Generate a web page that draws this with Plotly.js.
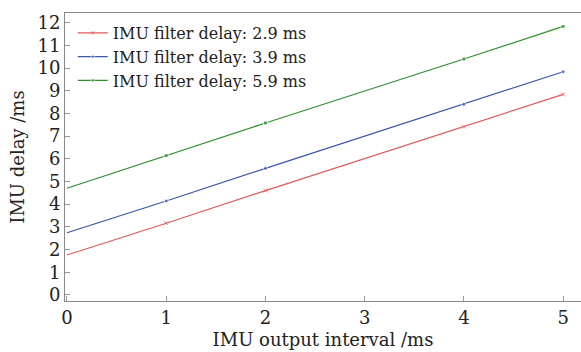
<!DOCTYPE html>
<html>
<head>
<meta charset="utf-8">
<script src="https://cdn.plot.ly/plotly-3.0.1.min.js"></script>
<style>html,body{margin:0;padding:0;background:#fff;}#chart{width:581px;height:352px;}</style>
</head>
<body>
<div id="chart"></div>
<script>
const xInterval = [0, 1, 2, 4, 5];
const delay29 = [1.76, 3.16, 4.60, 7.42, 8.84];
const delay39 = [2.74, 4.14, 5.58, 8.40, 9.84];
const delay59 = [4.70, 6.14, 7.58, 10.40, 11.84];
const seriesNames = ['IMU filter delay: 2.9 ms', 'IMU filter delay: 3.9 ms', 'IMU filter delay: 5.9 ms'];
const yTicks = [0,1,2,3,4,5,6,7,8,9,10,11,12];
const xTicks = [0,1,2,3,4,5];

const font = 'DejaVu Serif';
const mk = (y, name, color, symbol) => ({
  x: xInterval, y: y, name: name, type: 'scatter', mode: 'lines+markers',
  line: {color: color, width: 1.2},
  marker: {color: color, symbol: symbol, size: [0,4,4,4,4]}
});
const data = [
  mk(delay29, seriesNames[0], '#e05a5a', 'x-thin-open'),
  mk(delay39, seriesNames[1], '#3a56a8', 'circle'),
  mk(delay59, seriesNames[2], '#2f8f2f', 'square')
];
data[0].marker.line = {color: '#e05a5a', width: 1};
const layout = {
  width: 581, height: 352,
  margin: {l: 65, r: 0, t: 13, b: 51},
  paper_bgcolor: '#fff', plot_bgcolor: '#fff',
  font: {family: font, color: '#222'},
  showlegend: true,
  legend: {x: 0.015, y: 0.99, xanchor: 'left', yanchor: 'top', bgcolor: 'rgba(0,0,0,0)',
    font: {size: 16, family: font, color: '#222'}, tracegroupgap: 0, itemwidth: 30},
  xaxis: {range: [-0.02, 5.18], tickvals: xTicks, ticktext: xTicks.map(String),
    ticks: 'inside', ticklen: 5, tickcolor: '#999', showline: true, linecolor: '#888', linewidth: 1,
    mirror: true, showgrid: false, zeroline: false,
    tickfont: {size: 18, family: font, color: '#222'},
    title: {text: 'IMU output interval /ms', font: {size: 18, family: font, color: '#222'}, standoff: 6}},
  yaxis: {range: [-0.27, 12.43], tickvals: yTicks, ticktext: yTicks.map(String),
    ticks: 'inside', ticklen: 5, tickcolor: '#999', showline: true, linecolor: '#888', linewidth: 1,
    mirror: false, showgrid: false, zeroline: false,
    tickfont: {size: 18, family: font, color: '#222'},
    title: {text: 'IMU delay /ms', font: {size: 18, family: font, color: '#222'}, standoff: 8}}
};
Plotly.newPlot('chart', data, layout, {displayModeBar: false, staticPlot: true});
</script>
</body>
</html>
